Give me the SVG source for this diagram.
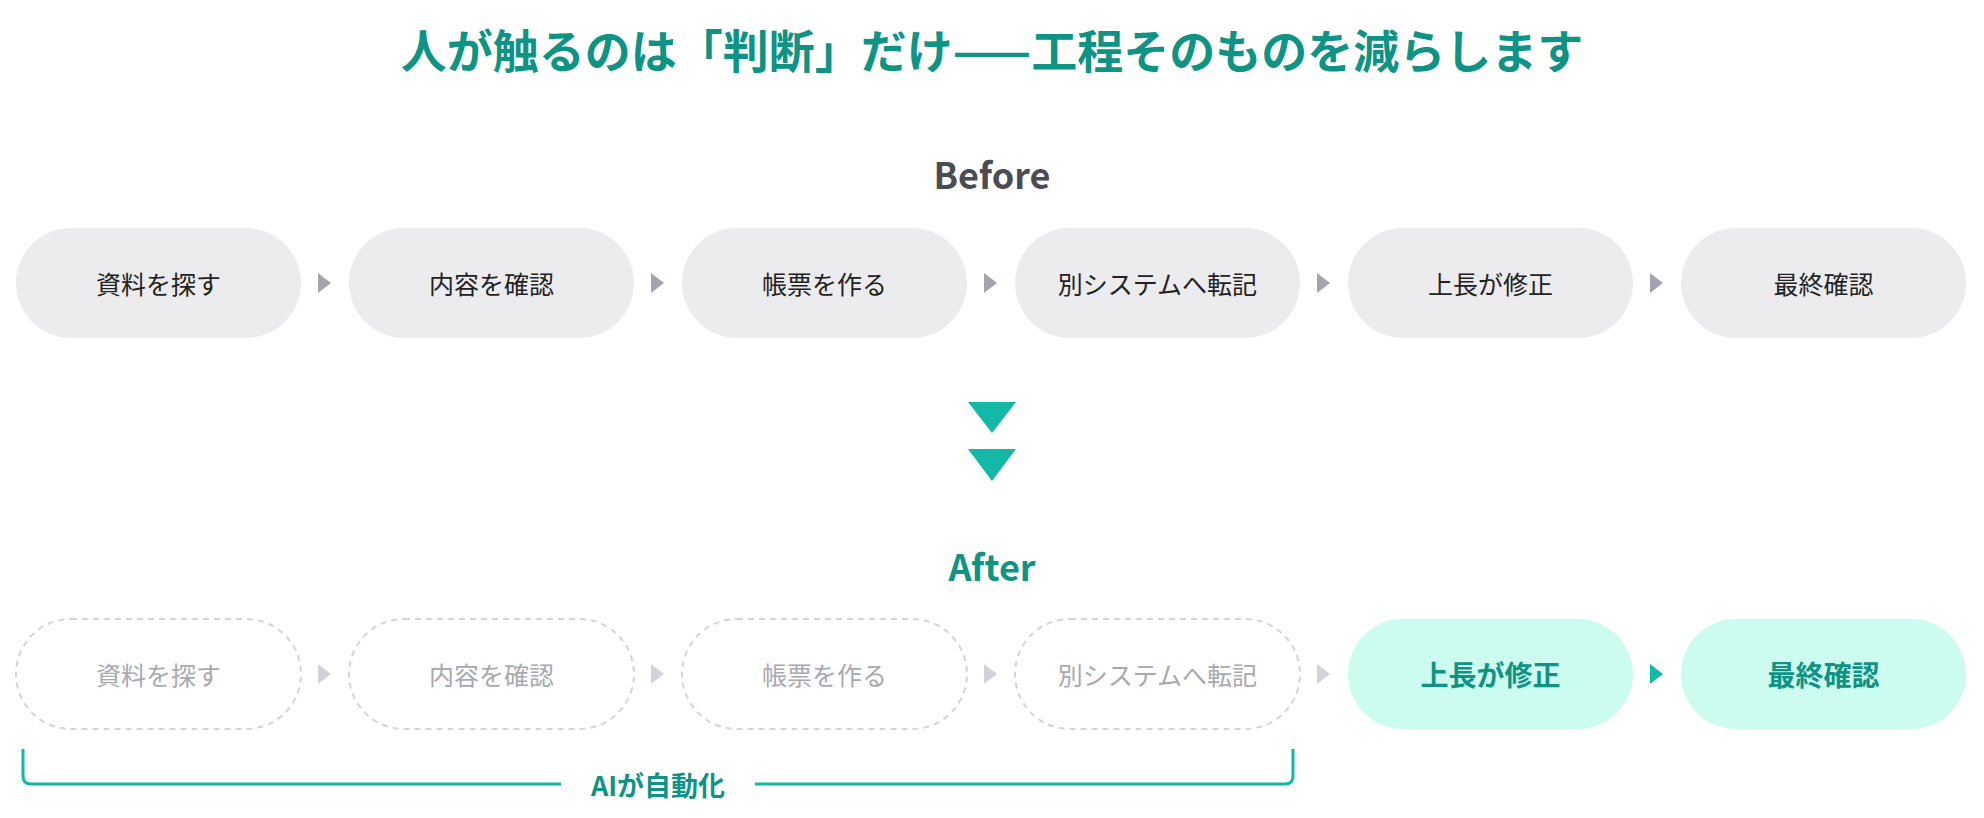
<svg xmlns="http://www.w3.org/2000/svg" width="1984" height="818" viewBox="0 0 1984 818">
<style>
text{font-family:"Noto Sans CJK JP","Noto Sans",sans-serif;text-anchor:middle;dominant-baseline:central}
.t{font-size:46px;font-weight:700;fill:#0e9384}
.h{font-size:36px;font-weight:700}
.n{fill:#ececef}
.nt{font-size:25px;fill:#222}
.d{fill:#fff;stroke:#d4d4da;stroke-width:2;stroke-dasharray:6 5}
.dt{font-size:25px;fill:#a8a8b0}
.g{fill:#ccfbef}
.gt{font-size:28px;font-weight:700;fill:#0e9384}
.a{fill:#a4a4ae}
.al{fill:#d2d2d8}
</style>
<rect width="1984" height="818" fill="#fff"/>
<text class="t" x="992" y="48">人が触るのは「判断」だけ——工程そのものを減らします</text>
<text class="h" x="992" y="173" fill="#4b4b55">Before</text>
<g id="b1"><rect class="n" x="16" y="228" width="285" height="110" rx="55"/><text class="nt" x="158.5" y="283">資料を探す</text></g>
<g id="b2"><rect class="n" x="349" y="228" width="285" height="110" rx="55"/><text class="nt" x="491.5" y="283">内容を確認</text></g>
<g id="b3"><rect class="n" x="682" y="228" width="285" height="110" rx="55"/><text class="nt" x="824.5" y="283">帳票を作る</text></g>
<g id="b4"><rect class="n" x="1015" y="228" width="285" height="110" rx="55"/><text class="nt" x="1157.5" y="283">別システムへ転記</text></g>
<g id="b5"><rect class="n" x="1348" y="228" width="285" height="110" rx="55"/><text class="nt" x="1490.5" y="283">上長が修正</text></g>
<g id="b6"><rect class="n" x="1681" y="228" width="285" height="110" rx="55"/><text class="nt" x="1823.5" y="283">最終確認</text></g>
<text class="h" x="992" y="565" fill="#0e9384">After</text>
<g id="a1"><rect class="d" x="16" y="619" width="285" height="110" rx="55"/><text class="dt" x="158.5" y="674">資料を探す</text></g>
<g id="a2"><rect class="d" x="349" y="619" width="285" height="110" rx="55"/><text class="dt" x="491.5" y="674">内容を確認</text></g>
<g id="a3"><rect class="d" x="682" y="619" width="285" height="110" rx="55"/><text class="dt" x="824.5" y="674">帳票を作る</text></g>
<g id="a4"><rect class="d" x="1015" y="619" width="285" height="110" rx="55"/><text class="dt" x="1157.5" y="674">別システムへ転記</text></g>
<g id="a5"><rect class="g" x="1348" y="619" width="285" height="110" rx="55"/><text class="gt" x="1490.5" y="674">上長が修正</text></g>
<g id="a6"><rect class="g" x="1681" y="619" width="285" height="110" rx="55"/><text class="gt" x="1823.5" y="674">最終確認</text></g>
<g id="connectors">
<path class="a" d="M318 273l13 10-13 10z M651 273l13 10-13 10z M984 273l13 10-13 10z M1317 273l13 10-13 10z M1650 273l13 10-13 10z"/>
<path class="al" d="M318 664l13 10-13 10z M651 664l13 10-13 10z M984 664l13 10-13 10z M1317 664l13 10-13 10z"/>
<path fill="#14b8a6" d="M1650 664l13 10-13 10z"/>
<path fill="#14b8a6" d="M968 402h48l-24 31z M968 449h48l-24 32z"/>
<path d="M23 749v27q0 8 8 8h530 M755 784h530q8 0 8-8v-27" fill="none" stroke="#14b8a6" stroke-width="3"/>
</g>
<text x="658" y="784" font-size="27" font-weight="700" fill="#0e9384">AIが自動化</text>
</svg>
